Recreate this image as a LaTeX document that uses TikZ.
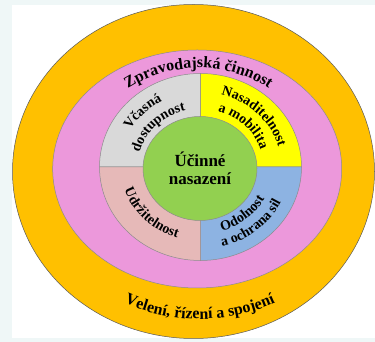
\documentclass[tikz,border=0pt]{standalone}
\usepackage{fontspec}
\setmainfont{Liberation Serif}
\usetikzlibrary{decorations.text}
\definecolor{pagebg}{HTML}{EFF7F7}
\definecolor{ringorange}{HTML}{FFC000}
\definecolor{ringpink}{HTML}{EC98DB}
\definecolor{seggray}{HTML}{D9D9D9}
\definecolor{segyellow}{HTML}{FFFF00}
\definecolor{segrose}{HTML}{E6B9B8}
\definecolor{segblue}{HTML}{8DB3E2}
\definecolor{coregreen}{HTML}{92D050}
\newcommand\ringfont{\bfseries\fontsize{14}{15}\selectfont}
\newcommand\bandfont{\bfseries\fontsize{16}{17}\selectfont}
\begin{document}
\begin{tikzpicture}[x=1pt,y=1pt]
	\tikzset{edge/.style={draw=black!65, line width=0.5pt},
		seg/.style={edge, draw=black!45},
		curved/.style={decorate, decoration={text along path, text align=center, text={#1}}}}
	\useasboundingbox (0,0) rectangle (375,342);
	\fill[pagebg] (0,0) rectangle (375,342);
	\fill[white] (12,4) rectangle (375,337);
	\coordinate (oc) at (193.5,170.5);
	\coordinate (pc) at (197.2,173);
	\coordinate (rc) at (200.5,175);
	\coordinate (mc) at (200,173.5);
	\coordinate (tc) at (198.5,170);
	\coordinate (bc) at (200,170);
	\filldraw[edge, fill=ringorange] (oc) ellipse [x radius=181pt, y radius=167pt];
	\filldraw[seg, fill=ringpink] (pc) ellipse [x radius=144.5pt, y radius=119pt];
	\filldraw[seg, fill=seggray] (rc) -- ([shift={(rc)}]180:101pt and 93.5pt) arc[start angle=180, end angle=90, x radius=101pt, y radius=93.5pt] -- cycle;
	\filldraw[seg, fill=segyellow] (rc) -- ([shift={(rc)}]90:101pt and 93.5pt) arc[start angle=90, end angle=0, x radius=101pt, y radius=93.5pt] -- cycle;
	\filldraw[seg, fill=segblue] (rc) -- ([shift={(rc)}]0:101pt and 93.5pt) arc[start angle=0, end angle=-90, x radius=101pt, y radius=93.5pt] -- cycle;
	\filldraw[seg, fill=segrose] (rc) -- ([shift={(rc)}]270:101pt and 93.5pt) arc[start angle=270, end angle=180, x radius=101pt, y radius=93.5pt] -- cycle;
	\filldraw[seg, fill=coregreen] (mc) ellipse [x radius=57pt, y radius=52pt];
	\node[font=\bfseries\fontsize{17}{18}\selectfont, align=center] (core) at (mc) {Účinné\\nasazení};
	\path[curved={|\bandfont|Zpravodajská činnost}] ([shift={(tc)}]150:118pt and 104pt) arc[start angle=150, end angle=30, x radius=118pt, y radius=104pt];
	\path[curved={|\bandfont|Velení, řízení a spojení}] ([shift={(bc)}]215:166pt and 147pt) arc[start angle=215, end angle=325, x radius=166pt, y radius=147pt];
	\path[curved={|\ringfont|Včasná}] ([shift={(rc)}]178:81pt and 74.5pt) arc[start angle=178, end angle=92, x radius=81pt, y radius=74.5pt];
	\path[curved={|\ringfont|dostupnost}] ([shift={(rc)}]178:63pt and 58pt) arc[start angle=178, end angle=92, x radius=63pt, y radius=58pt];
	\path[curved={|\ringfont|Nasaditelnost}] ([shift={(rc)}]88:81pt and 74.5pt) arc[start angle=88, end angle=2, x radius=81pt, y radius=74.5pt];
	\path[curved={|\ringfont|a mobilita}] ([shift={(rc)}]88:63pt and 58pt) arc[start angle=88, end angle=2, x radius=63pt, y radius=58pt];
	\path[curved={|\ringfont|Udržitelnost}] ([shift={(rc)}]182:80pt and 73.5pt) arc[start angle=182, end angle=268, x radius=80pt, y radius=73.5pt];
	\path[curved={|\ringfont|Odolnost}] ([shift={(rc)}]270:73pt and 67pt) arc[start angle=270, end angle=350, x radius=73pt, y radius=67pt];
	\path[curved={|\ringfont|a ochrana sil}] ([shift={(rc)}]270:89pt and 82pt) arc[start angle=270, end angle=350, x radius=89pt, y radius=82pt];
\end{tikzpicture}
\end{document}
